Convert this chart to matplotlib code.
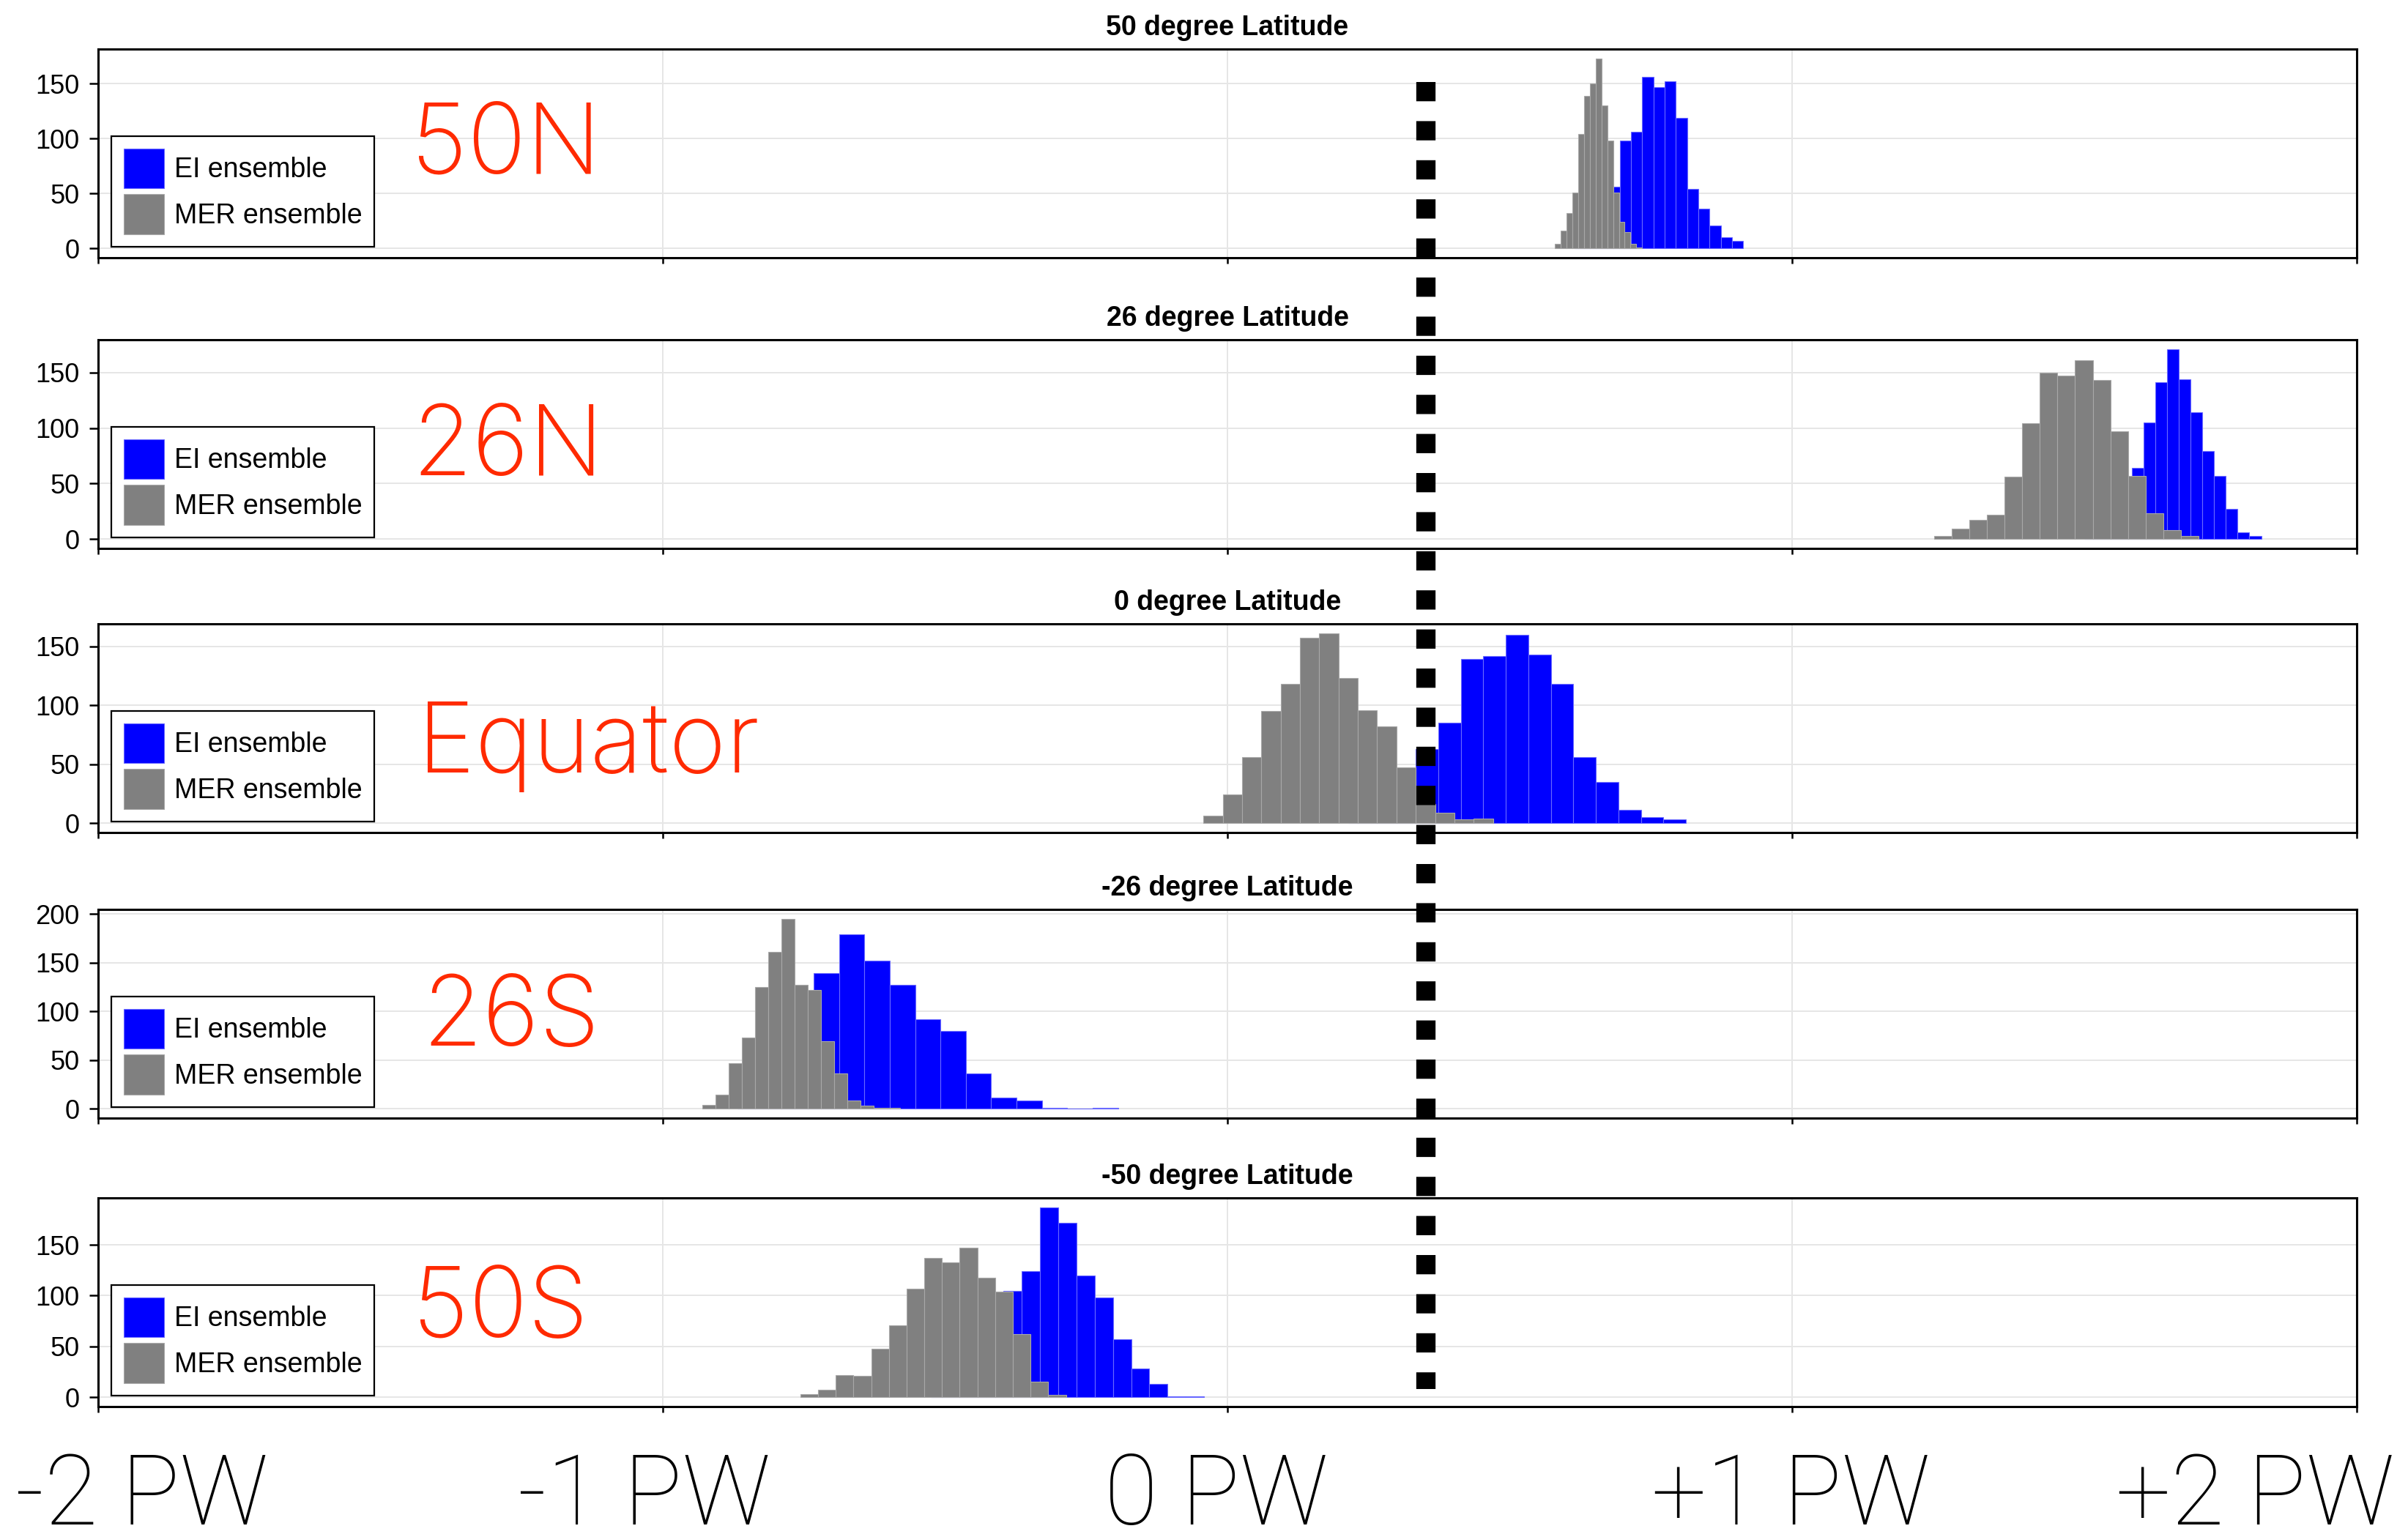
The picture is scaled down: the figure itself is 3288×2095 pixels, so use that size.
import numpy as np
import matplotlib
matplotlib.use("Agg")
import matplotlib.pyplot as plt
from matplotlib.patches import Patch
from matplotlib.lines import Line2D
from matplotlib import transforms

plt.rcParams['font.family'] = ['Liberation Sans', 'DejaVu Sans']

# panel titles and region labels
titles = ['50 degree Latitude', '26 degree Latitude', '0 degree Latitude',
          '-26 degree Latitude', '-50 degree Latitude']
regions = ['50N', '26N', 'Equator', '26S', '50S']

# histogram counts (15 bins each), bin start and bin width in PW
ei_50N = [1, 4, 27, 56, 98, 106, 156, 147, 152, 119, 54, 36, 21, 10, 7]
ei_50N_bins = (0.615, 0.0199)
mer_50N = [4, 16, 32, 51, 104, 139, 150, 173, 130, 98, 51, 24, 15, 4, 1]
mer_50N_bins = (0.580, 0.0103)

ei_26N = [1, 8, 27, 52, 64, 105, 141, 171, 144, 114, 79, 57, 27, 6, 3]
ei_26N_bins = (1.518, 0.02085)
mer_26N = [3, 9, 17, 22, 56, 104, 150, 147, 161, 143, 97, 57, 23, 8, 3]
mer_26N_bins = (1.251, 0.03128)

ei_eq = [4, 12, 24, 63, 85, 139, 142, 160, 143, 118, 56, 35, 11, 5, 3]
ei_eq_bins = (0.2137, 0.0399)
mer_eq = [6, 24, 56, 95, 118, 157, 161, 123, 96, 82, 47, 16, 9, 3, 4]
mer_eq_bins = (-0.0424, 0.03418)

ei_26S = [13, 53, 96, 139, 179, 152, 127, 92, 80, 36, 11, 8, 1, 0, 1]
ei_26S_bins = (-0.8673, 0.0449)
mer_26S = [4, 14, 47, 73, 125, 161, 195, 127, 122, 69, 36, 8, 3, 1, 1]
mer_26S_bins = (-0.9294, 0.02328)

ei_50S = [1, 8, 22, 62, 105, 124, 187, 172, 120, 98, 57, 28, 13, 1, 1]
ei_50S_bins = (-0.5254, 0.03227)
mer_50S = [3, 7, 22, 21, 48, 71, 107, 137, 133, 147, 118, 104, 62, 15, 2]
mer_50S_bins = (-0.7563, 0.03136)

ei_all = [(ei_50N, ei_50N_bins), (ei_26N, ei_26N_bins), (ei_eq, ei_eq_bins),
          (ei_26S, ei_26S_bins), (ei_50S, ei_50S_bins)]
mer_all = [(mer_50N, mer_50N_bins), (mer_26N, mer_26N_bins), (mer_eq, mer_eq_bins),
           (mer_26S, mer_26S_bins), (mer_50S, mer_50S_bins)]

threshold = 0.351  # dotted reference line (PW)
xtick_labels = ['-2 PW', '-1 PW', '0 PW', '+1 PW', '+2 PW']

W, H = 3288, 2095
DPI = 200
fig = plt.figure(figsize=(W / DPI, H / DPI), dpi=DPI)

# axes layout in pixels (top, bottom)
panel_px = [(67, 352), (464, 749), (852, 1137), (1242, 1527), (1636, 1921)]
left_px, right_px = 134, 3218

red_font = dict(family=['Inter', 'Roboto', 'DejaVu Sans'], fontweight='light', fontsize=48)
pw_font = dict(family=['Roboto', 'DejaVu Sans'], fontweight='light', fontsize=48)
label_px = [(561, 237), (562, 649), (570, 1055), (576, 1428), (563, 1826)]

axes = []
for i, (top, bot) in enumerate(panel_px):
    ax = fig.add_axes([left_px / W, 1 - bot / H, (right_px - left_px) / W, (bot - top) / H])
    axes.append(ax)

    counts, (start, width) = ei_all[i]
    edges = start + width * np.arange(len(counts) + 1)
    ax.bar(edges[:-1], counts, width=width, align='edge', color='#0000ff',
           edgecolor='#6a6aff', linewidth=0.4, zorder=2)
    counts_m, (start_m, width_m) = mer_all[i]
    edges_m = start_m + width_m * np.arange(len(counts_m) + 1)
    ax.bar(edges_m[:-1], counts_m, width=width_m, align='edge', color='#808080',
           edgecolor='#a8a8a8', linewidth=0.4, zorder=3)

    ymax = max(max(counts), max(counts_m))
    ax.set_ylim(-0.05 * ymax, 1.05 * ymax)
    ax.set_xlim(-2, 2)
    ax.set_xticks([-2, -1, 0, 1, 2])
    ax.set_xticklabels([])
    ax.yaxis.set_major_locator(matplotlib.ticker.MultipleLocator(50))
    ax.grid(True, color='#e6e6e6', linewidth=0.7, zorder=0)
    ax.set_axisbelow(True)
    ax.tick_params(axis='y', labelsize=13, length=4.3, width=0.9, pad=5)
    ax.tick_params(axis='x', length=3, width=0.9)
    for s in ax.spines.values():
        s.set_linewidth(1.1)
    ax.set_title(titles[i], fontsize=13.5, fontweight='bold', pad=6.8)

    handles = [Patch(facecolor='#0000ff', edgecolor='#6a6aff', linewidth=0.4, label='EI ensemble'),
               Patch(facecolor='#808080', edgecolor='#a8a8a8', linewidth=0.4, label='MER ensemble')]
    leg = ax.legend(handles=handles, loc='lower left', bbox_to_anchor=(0.0058, 0.054),
                    borderaxespad=0, fontsize=13.5, handlelength=1.47, handleheight=1.85,
                    labelspacing=0.22, borderpad=0.45, handletextpad=0.37,
                    fancybox=False, framealpha=1, edgecolor='black')
    leg.get_frame().set_linewidth(0.8)
    leg.set_zorder(5)

    lx, ly = label_px[i]
    fig.text(lx / W, 1 - ly / H, regions[i], color='#ff2a00', ha='left', va='baseline', **red_font)

# dotted vertical line across all panels
trans = transforms.blended_transform_factory(axes[0].transData, fig.transFigure)
fig.add_artist(Line2D([threshold, threshold], [1 - 111.7 / H, 1 - 1897 / H], transform=trans,
                      color='black', linewidth=9.47, linestyle=(0, (1, 1.03)),
                      dash_capstyle='butt', zorder=10))

# big x labels under the figure
bx = [(21, 'left'), (880, 'center'), (1661, 'center'), (2445, 'center'), (3270, 'right')]
for (px, ha), lab in zip(bx, xtick_labels):
    fig.text(px / W, 1 - 2082 / H, lab, color='black', ha=ha, va='baseline', **pw_font)

fig.savefig('out.png', dpi=DPI)
